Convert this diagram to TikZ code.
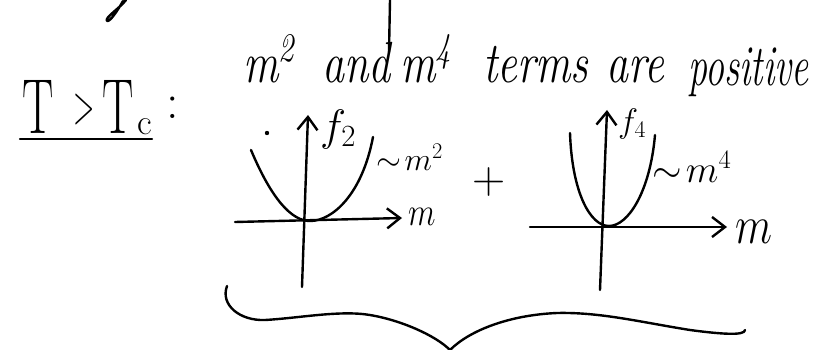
\RequirePackage{fix-cm}
\documentclass[tikz,border=0pt]{standalone}
\usetikzlibrary{arrows.meta}
\begin{document}
\begin{tikzpicture}[x=1pt,y=-1pt,
  pen/.style={line width=2.4pt,line cap=round,line join=round},
  axis/.style={pen,-{Straight Barb[length=13pt,width=20pt]}},
  word/.style={anchor=base west,inner sep=0pt,font=\fontsize{58}{60}\selectfont\itshape,xscale=0.76},
  lab/.style={inner sep=0pt,anchor=base west},
  big/.style={inner sep=0pt,anchor=base west,font=\fontsize{78}{80}\selectfont,xscale=0.6}]
\useasboundingbox (0,0) rectangle (832,350);
% partial strokes from the line above
\draw[pen] (126,0) .. controls (120,8) and (104,18) .. (107,21) .. controls (110,22) and (118,10) .. (123,1);
\draw[pen] (390,0) -- (389,52);
% T > Tc :
\node[big] (t1) at (22,133) {T};
\node[lab,font=\fontsize{56}{58}\selectfont,xscale=0.5] (gt) at (73,124) {$>$};
\node[big] (t2) at (102,133) {T};
\node[lab,font=\fontsize{36}{38}\selectfont] (tc) at (137,135) {c};
\node[lab,font=\fontsize{50}{52}\selectfont] (colon) at (166,118) {:};
\draw[pen] (20,139) -- (152,139);
% title text
\node[word] (w1) at (243,83) {m\textsuperscript{2}};
\node[word] (w2) at (322,83) {and};
\node[word] (w3) at (400,83) {m\textsuperscript{4}};
\node[word] (w4) at (483,83) {terms};
\node[word] (w5) at (606,83) {are};
\node[word,xscale=0.86] (w6) at (688,86) {positive};
% left graph
\coordinate (la) at (302,287);
\coordinate (lb) at (308,115);
\coordinate (lc) at (235,222);
\coordinate (ld) at (402,218);
\draw[axis] (la) -- (lb);
\draw[axis] (lc) -- (ld);
\draw[pen] (251,150) .. controls (272,200) and (292,221) .. (310,221) .. controls (332,221) and (362,195) .. (373,137);
\fill (267,133) circle (2.2pt);
\node[lab,font=\fontsize{44}{46}\selectfont] (f2) at (320,140) {$f_{2}$};
\node[lab,font=\fontsize{32}{34}\selectfont] (s2) at (376,170) {$\sim\!m^{2}$};
\node[lab,font=\fontsize{40}{42}\selectfont,xscale=0.8] (m1) at (408,225) {$m$};
% plus
\node[lab,font=\fontsize{46}{48}\selectfont] (plus) at (472,193) {$+$};
% right graph
\coordinate (ra) at (600,290);
\coordinate (rb) at (607,110);
\coordinate (rc) at (530,227);
\coordinate (rd) at (727,227);
\draw[axis] (ra) -- (rb);
\draw[axis] (rc) -- (rd);
\draw[pen] (570,133) .. controls (572,192) and (590,226) .. (609,226) .. controls (628,226) and (650,192) .. (655,135);
\node[lab,font=\fontsize{34}{36}\selectfont] (f4) at (618,132) {$f_{4}$};
\node[lab,font=\fontsize{38}{40}\selectfont] (s4) at (652,182) {$\sim\!m^{4}$};
\node[lab,font=\fontsize{54}{56}\selectfont,xscale=0.8] (m2) at (735,243) {$m$};
% brace
\draw[pen] (227,286) .. controls (220,305) and (240,321) .. (265,320)
  .. controls (300,318) and (340,310) .. (370,315)
  .. controls (400,320) and (435,335) .. (450,350)
  .. controls (470,330) and (510,315) .. (557,313)
  .. controls (600,312) and (640,322) .. (690,330)
  .. controls (720,334) and (745,336) .. (745,330);
\end{tikzpicture}
\end{document}
